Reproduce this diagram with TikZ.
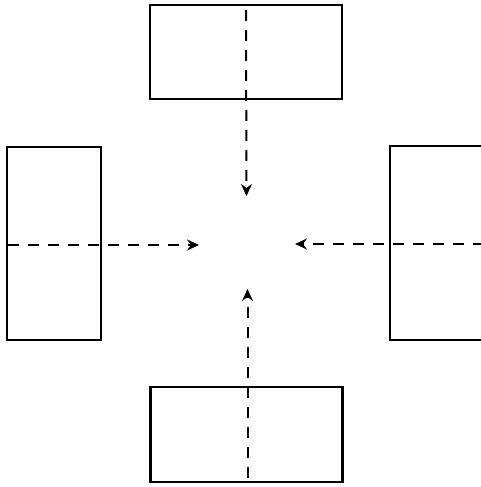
\documentclass[tikz,border=0pt]{standalone}
\usetikzlibrary{arrows.meta}
\begin{document}
\begin{tikzpicture}[x=1pt,y=-1pt,
  panel/.style={draw,line width=2.2pt,inner sep=0pt,minimum width=#1},
  flow/.style={line width=2pt,dash pattern=on 11pt off 9pt,
    -{Stealth[length=12pt,width=11pt,inset=4pt]}}]
\useasboundingbox (0,0) rectangle (481,487);
\clip (0,0) rectangle (481,487);
% four panels around the centre
\node[panel=192pt,minimum height=94pt] (top) at (246,52) {};
\node[panel=192pt,minimum height=95pt] (bot) at (246.5,434.5) {};
\node[panel=94pt,minimum height=193pt] (lft) at (54,243.5) {};
\node[panel=100pt,minimum height=194pt] (rgt) at (440,243) {};
% arrow heads meet near the centre
\coordinate (ct) at (246.5,196);
\coordinate (cb) at (247.5,289);
\coordinate (cl) at (199,245);
\coordinate (cr) at (295,244);
\coordinate (st) at (246,10);
\coordinate (sb) at (247.5,478);
\coordinate (sl) at (8,245);
\coordinate (sr) at (484,244);
\draw[flow] (st) -- (ct);
\draw[flow] (sb) -- (cb);
\draw[flow] (sl) -- (cl);
\draw[flow] (sr) -- (cr);
\end{tikzpicture}
\end{document}
